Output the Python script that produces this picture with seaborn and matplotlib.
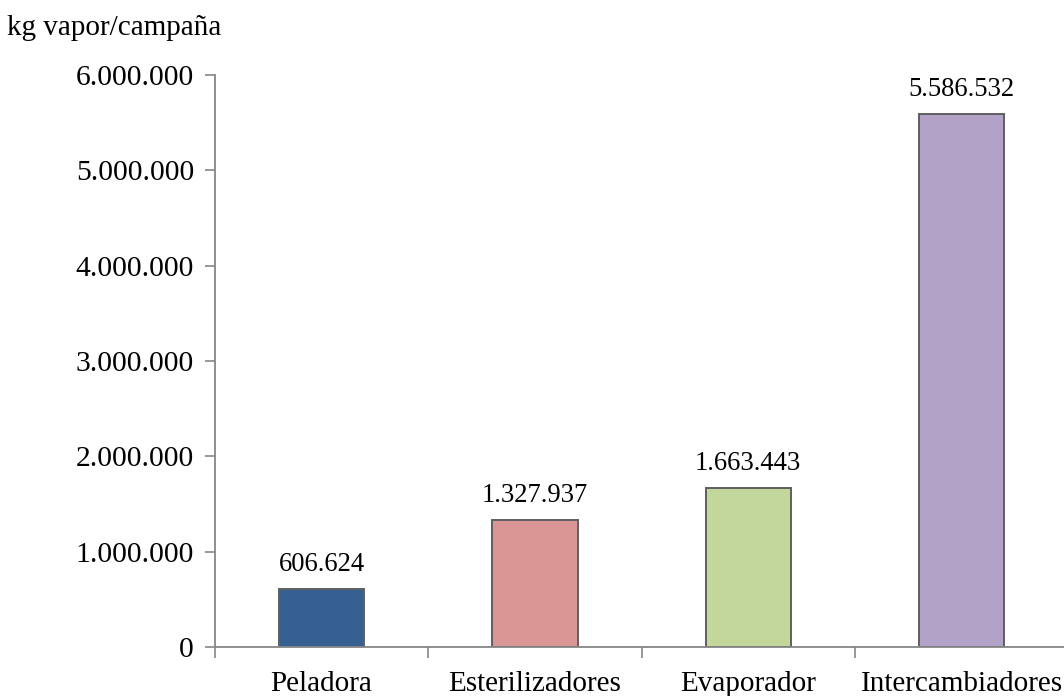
import matplotlib
matplotlib.use("Agg")
import matplotlib.pyplot as plt
import matplotlib.ticker as mticker
import seaborn as sns
import pandas as pd

# Steam consumption per campaign by equipment
categories = ["Peladora", "Esterilizadores", "Evaporador", "Intercambiadores"]
values = [606624, 1327937, 1663443, 5586532]
colors = ["#376092", "#D99694", "#C3D69B", "#B3A2C7"]
y_ticks = [0, 1000000, 2000000, 3000000, 4000000, 5000000, 6000000]
y_label = "kg vapor/campaña"

sns.set_theme(style="white")
plt.rcParams["font.family"] = ["Liberation Serif", "DejaVu Serif"]
plt.rcParams["text.color"] = "black"
plt.rcParams["xtick.labelcolor"] = "black"
plt.rcParams["ytick.labelcolor"] = "black"

def miles(v, pos=None):
    return f"{int(round(v)):,}".replace(",", ".")

df = pd.DataFrame({"equipo": categories, "vapor": values})

fig = plt.figure(figsize=(10.64, 6.96), dpi=100)
ax = fig.add_axes([0.202, 0.0704, 0.802, 0.8218])

sns.barplot(data=df, x="equipo", y="vapor", hue="equipo", palette=colors,
            width=0.4, edgecolor="#5f5f5f", linewidth=1.4, legend=False,
            saturation=1, ax=ax)

ax.set_xlim(-0.5, len(categories) - 0.5)
ax.set_ylim(0, 6000000)
ax.set_yticks(y_ticks)
ax.yaxis.set_major_formatter(mticker.FuncFormatter(miles))

# category labels centred, tick marks on the category boundaries
ax.set_xticks(range(len(categories)))
ax.set_xticklabels(categories)
ax.set_xticks([i - 0.5 for i in range(len(categories) + 1)], minor=True)
ax.tick_params(axis="x", which="major", length=0, pad=17, labelsize=21,
               labelcolor="black")
ax.tick_params(axis="x", which="minor", length=8, width=1.2, color="#868686",
               direction="out", bottom=True)
ax.tick_params(axis="y", which="major", length=7, width=1.2, color="#868686",
               direction="out", left=True, pad=8, labelsize=21.3,
               labelcolor="black")
ax.set_xlabel("")
ax.set_ylabel("")

for side in ["top", "right"]:
    ax.spines[side].set_visible(False)
for side in ["left", "bottom"]:
    ax.spines[side].set_color("#868686")
    ax.spines[side].set_linewidth(1.3)

for i, v in enumerate(values):
    ax.annotate(miles(v), xy=(i, v), xytext=(0, 9), textcoords="offset points",
                ha="center", va="bottom", fontsize=19.2, color="black")

fig.text(0.007, 0.96, y_label, ha="left", va="center", fontsize=21,
         color="black")

fig.savefig("out.png", dpi=100)
